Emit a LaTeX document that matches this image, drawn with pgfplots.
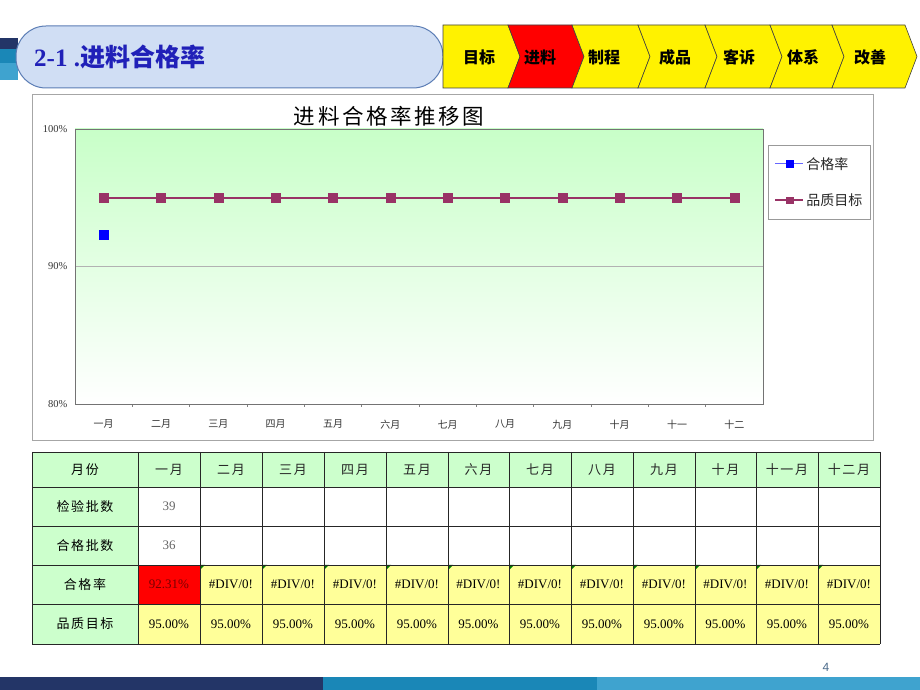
\documentclass[border=0pt]{standalone}
\usepackage{pgfplots}
\pgfplotsset{compat=1.18}
\usepackage{fontspec}
\setmainfont{Liberation Serif}
\newfontfamily\cjk{Noto Sans CJK SC}
\newfontfamily\cjkw[LetterSpace=12]{Noto Sans CJK SC}
\newfontfamily\sans{Liberation Sans}
\definecolor{hdnavy}{HTML}{233567}
\definecolor{hdteal}{HTML}{1A87B7}
\definecolor{hdlight}{HTML}{3FA3CF}
\definecolor{pillfill}{HTML}{D0DEF4}
\definecolor{pillborder}{HTML}{5B7DB5}
\definecolor{titleblue}{HTML}{2020B8}
\definecolor{cg}{HTML}{CCFFCC}
\definecolor{cg2}{HTML}{C8FFC8}
\definecolor{cy}{HTML}{FFFF99}
\definecolor{maroon}{HTML}{993366}
\definecolor{trig}{HTML}{007A00}
\definecolor{pgnum}{HTML}{4A6A8A}
\newcommand{\chev}[4]{%
  \draw[fill=#3, draw=black!75, line width=0.6bp] (#1,25) -- (#2,25) -- (#2+12,56.5) -- (#2,88) -- (#1,88) -- (#1+#4,56.5) -- cycle;}
\begin{document}
\begin{tikzpicture}[x=1bp,y=1bp]
\path[use as bounding box] (0,0) rectangle (920,690);
\fill[white] (0,0) rectangle (920,690);
\begin{scope}[shift={(0,690)},yscale=-1]
  % header squares
  \fill[hdnavy] (0,38) rectangle (18,49);
  \fill[hdteal] (0,49) rectangle (18,63);
  \fill[hdlight] (0,63) rectangle (18,80);
  \draw[draw=pillborder, fill=pillfill, line width=1bp, rounded corners=30bp] (16,26) rectangle (443,88);
  \node[anchor=west, text=titleblue, font=\bfseries\fontsize{25bp}{28bp}\selectfont, inner sep=0] at (34,57) {2-1 .{\cjk\bfseries 进料合格率}};
  % chevrons
  \chev{443}{508}{yellow}{0}
  \chev{508}{572}{red}{12}
  \chev{572}{638}{yellow}{12}
  \chev{638}{705}{yellow}{12}
  \chev{705}{770}{yellow}{12}
  \chev{770}{832}{yellow}{12}
  \chev{832}{905}{yellow}{12}
  \foreach \cx/\t in {479/目标,540/进料,604/制程,675/成品,739/客诉,803/体系,870/改善}
    \node[font=\cjk\bfseries\fontsize{16bp}{18bp}\selectfont] at (\cx,57) {\t};
  % chart box
  \draw[gray!70, line width=0.8bp, fill=white] (32,94) rectangle (873,440);
  \node[font=\cjkw\fontsize{21.5bp}{24bp}\selectfont] at (389,116) {进料合格率推移图};
  % table
  \fill[cg] (32,452) rectangle (880,487);
  \fill[cg] (32,487) rectangle (138,644);
  \fill[cy] (138,565) rectangle (880,644);
  \fill[red] (138,565) rectangle (200,604);
  \foreach \xa in {200,262,324,386,448,509,571,633,695,756,818}
    \fill[trig] (\xa,565) -- (\xa+5,565) -- (\xa,570) -- cycle;
  \foreach \yy in {452,487,526,565,604,644}
    \draw[black!85, line width=0.8bp] (32,\yy) -- (880,\yy);
  \foreach \xx in {32,138,200,262,324,386,448,509,571,633,695,756,818,880}
    \draw[black!85, line width=0.8bp] (\xx,452) -- (\xx,644);
  \node[font=\cjkw\fontsize{13bp}{15bp}\selectfont] at (85,469.5) {月份};
  \node[font=\cjkw\fontsize{13bp}{15bp}\selectfont] at (85,506.5) {检验批数};
  \node[font=\cjkw\fontsize{13bp}{15bp}\selectfont] at (85,545.5) {合格批数};
  \node[font=\cjkw\fontsize{13bp}{15bp}\selectfont] at (85,584.5) {合格率};
  \node[font=\cjkw\fontsize{13bp}{15bp}\selectfont] at (85,624) {品质目标};
  \foreach \xa/\xb/\m in {138/200/一月,200/262/二月,262/324/三月,324/386/四月,386/448/五月,448/509/六月,509/571/七月,571/633/八月,633/695/九月,695/756/十月,756/818/十一月,818/880/十二月}{
    \node[font=\cjkw\fontsize{13bp}{15bp}\selectfont, text=black!85] at ({(\xa+\xb)/2},469.5) {\m};
    \node[font=\fontsize{13bp}{15bp}\selectfont] at ({(\xa+\xb)/2},624) {95.00\%};
  }
  \foreach \xa/\xb in {200/262,262/324,324/386,386/448,448/509,509/571,571/633,633/695,695/756,756/818,818/880}
    \node[font=\fontsize{13bp}{15bp}\selectfont] at ({(\xa+\xb)/2},584.5) {\#DIV/0!};
  \node[font=\fontsize{13bp}{15bp}\selectfont, text=black!60] at (169,506.5) {39};
  \node[font=\fontsize{13bp}{15bp}\selectfont, text=black!60] at (169,545.5) {36};
  \node[font=\fontsize{13bp}{15bp}\selectfont, text={rgb,255:red,120;green,0;blue,0}] at (169,584.5) {92.31\%};
  % page number and bottom bar
  \node[font=\sans\fontsize{12bp}{14bp}\selectfont, text=pgnum] at (826,667) {4};
  \fill[hdnavy] (0,677) rectangle (323,690);
  \fill[hdteal] (323,677) rectangle (597,690);
  \fill[hdlight] (597,677) rectangle (920,690);
\end{scope}
\begin{axis}[
  at={(75bp,286bp)}, anchor=south west, scale only axis,
  width=688bp, height=275bp,
  xmin=-0.5, xmax=11.5, ymin=80, ymax=100,
  xtick={0,...,11},
  xticklabels={一月,二月,三月,四月,五月,六月,七月,八月,九月,十月,十一,十二},
  ytick={80,90,100}, yticklabels={80\%,90\%,100\%},
  minor xtick={0.5,1.5,...,10.5},
  tick pos=left,
  major tick length=0pt, minor tick length=3bp, tick align=outside,
  every minor tick/.style={gray, line width=0.6bp},
  ymajorgrids, grid style={gray!60, line width=0.5bp},
  axis line style={gray!90!black, line width=0.8bp},
  axis background/.style={top color=cg2, bottom color=white},
  xticklabel style={font=\cjk\fontsize{10bp}{12bp}\selectfont, text=black!80, yshift=-12.5bp},
  yticklabel style={font=\fontsize{10.5bp}{12bp}\selectfont, text=black!80, xshift=-4bp},
  legend style={at={(1.0073,0.9418)}, anchor=north west, draw=gray!80, line width=0.6bp, fill=white,
    inner xsep=6bp, inner ysep=10bp, row sep=19bp, font=\cjk\fontsize{14bp}{16bp}\selectfont,
    text=black!85},
  legend cell align=left,
  legend image code/.code={\draw[mark repeat=2,mark phase=2,#1,mark size=3.5pt] plot coordinates {(0bp,0bp) (14bp,0bp) (28bp,0bp)};},
  clip=false,
]
\addplot[color=blue!60, line width=1bp, mark=square*, mark size=4.5pt, mark options={draw=blue, fill=blue, line width=0.5bp}] coordinates {(0,92.31)};
\addlegendentry{合格率}
\addplot[color=maroon, line width=2bp, mark=square*, mark size=4.5pt, mark options={draw=maroon, fill=maroon, line width=0.5bp}] coordinates {(0,95)(1,95)(2,95)(3,95)(4,95)(5,95)(6,95)(7,95)(8,95)(9,95)(10,95)(11,95)};
\addlegendentry{品质目标}
\end{axis}
\end{tikzpicture}
\end{document}
